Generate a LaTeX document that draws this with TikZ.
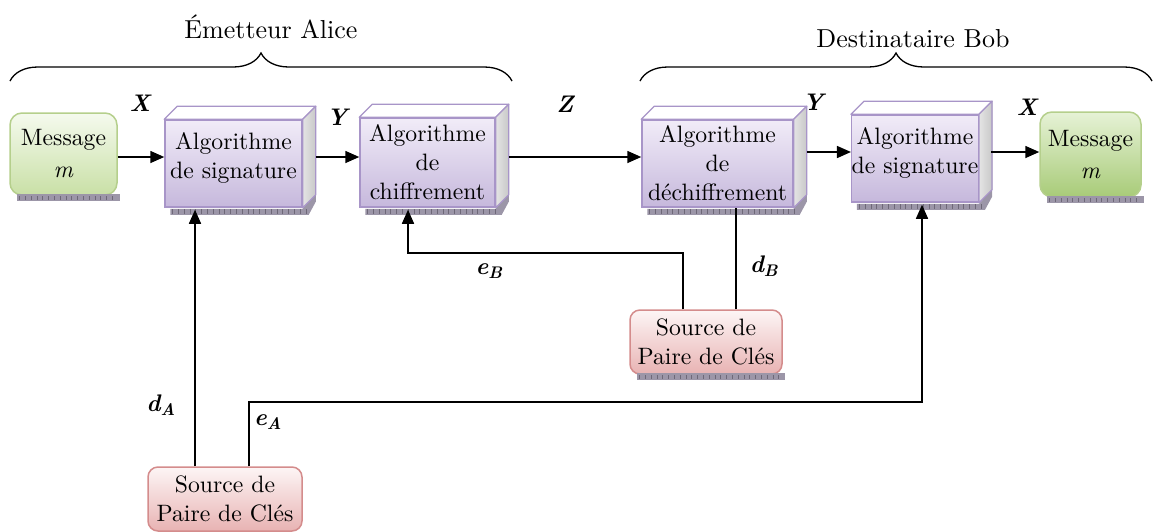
\documentclass[tikz,border=0pt]{standalone}
\usepackage{fontspec}
\setmainfont{lmroman10}[Extension=.otf, UprightFont=*-regular, BoldFont=*-bold, ItalicFont=*-italic, BoldItalicFont=*-bolditalic]
\usetikzlibrary{arrows.meta,calc,decorations.pathreplacing}
\definecolor{pborder}{HTML}{A895C8}
\definecolor{ptop}{HTML}{F1ECF8}
\definecolor{pbot}{HTML}{C6B8DC}
\definecolor{sideL}{HTML}{E4E4E4}
\definecolor{sideR}{HTML}{C8C8C8}
\definecolor{gborder}{HTML}{B5CF8C}
\definecolor{gtop}{HTML}{F5FAEE}
\definecolor{gbot}{HTML}{C9E0A6}
\definecolor{gtopB}{HTML}{E6F2D6}
\definecolor{gbotB}{HTML}{A8CB78}
\definecolor{rborder}{HTML}{D48C8C}
\definecolor{rtop}{HTML}{FDF5F5}
\definecolor{rbot}{HTML}{E8B3B3}
\definecolor{shc}{HTML}{9C96A8}
\definecolor{shd}{HTML}{6E6878}
\newcommand\bxfont{\fontsize{23.7}{29}\selectfont}
\newcommand\ttlfont{\fontsize{26}{31}\selectfont}
\newcommand\lbfont{\fontsize{24}{28}\selectfont\bfseries\itshape}
\newcommand\cubeparts[2]{%
  \fill[shc] ($(#1.south west)+(6,1)$) -- ($(#1.south west)+(6,7)$) -- ($(#1.south east)+(6,7)$) -- ($(#1.south east)+(#2,-#2+7)$) -- ($(#1.south east)+(#2,-#2)$) -- ($(#1.south east)+(0,1)$) -- cycle;
  \draw[shd, line width=5pt, dash pattern=on 0.8pt off 5pt] ($(#1.south west)+(8,4)$) -- ($(#1.south east)+(4,4)$);
  \filldraw[draw=pborder, line width=1.3pt, fill=white, line join=round] (#1.north west) -- ++(#2,-#2) -- ($(#1.north east)+(#2,-#2)$) -- (#1.north east) -- cycle;
  \filldraw[draw=pborder, line width=1.3pt, left color=sideL, right color=sideR, line join=round] (#1.north east) -- ++(#2,-#2) -- ($(#1.south east)+(#2,-#2)$) -- (#1.south east) -- cycle;
}
\newcommand\flatshadow[1]{%
  \fill[shc] ($(#1.south west)+(8,-2)$) rectangle ($(#1.south east)+(2,5)$);
  \draw[shd, line width=4pt, dash pattern=on 0.8pt off 5pt] ($(#1.south west)+(10,2.5)$) -- ($(#1.south east)+(0,2.5)$);
}
\begin{document}
\begin{tikzpicture}[x=1pt,y=-1pt,
  algbox/.style={draw=pborder, line width=1.5pt, top color=ptop, bottom color=pbot, align=center, inner sep=0pt, font=\bxfont},
  msgbox/.style={draw=gborder, line width=1.5pt, rounded corners=12pt, top color=gtop, bottom color=gbot, align=center, inner sep=0pt, font=\bxfont},
  msgboxB/.style={msgbox, top color=gtopB, bottom color=gbotB},
  srcbox/.style={draw=rborder, line width=1.5pt, rounded corners=10pt, top color=rtop, bottom color=rbot, align=center, inner sep=0pt, font=\bxfont},
  arr/.style={line width=1.6pt, -{Triangle[length=14pt,width=12pt]}},
  link/.style={line width=1.5pt},
  lab/.style={font=\lbfont, inner sep=0pt},
  ttl/.style={font=\ttlfont, inner sep=0pt},
  brc/.style={decorate, decoration={brace, amplitude=28pt}, line width=1.3pt}
]
\useasboundingbox (0,0) rectangle (1160,531);

% titles and braces
\node[ttl] (tA) at (271,27) {Émetteur Alice};
\node[ttl] (tB) at (913,39) {Destinataire Bob};
\coordinate (brA1) at (10,81);
\coordinate (brA2) at (512,81);
\coordinate (brB1) at (640,81);
\coordinate (brB2) at (1152,81);
\draw[brc] (brA1) -- (brA2);
\draw[brc] (brB1) -- (brB2);

% message boxes
\node[msgbox, minimum width=107pt, minimum height=82pt] (m1) at (63.5,154) {Message\\[3pt]\textit{m}};
\flatshadow{m1}
\node[msgboxB, minimum width=101pt, minimum height=85pt] (m2) at (1090.5,154.5) {Message\\[3pt]\textit{m}};
\flatshadow{m2}

% algorithm boxes
\node[algbox, minimum width=137pt, minimum height=87pt, text depth=16pt] (b1) at (233.5,163.5) {Algorithme\\de signature};
\cubeparts{b1}{13}
\node[algbox, minimum width=135pt, minimum height=89pt] (b2) at (427.5,162.5) {Algorithme\\de\\chiffrement};
\cubeparts{b2}{13}
\node[algbox, minimum width=151pt, minimum height=87pt] (b3) at (717.5,163.5) {Algorithme\\de\\déchiffrement};
\cubeparts{b3}{13}
\node[algbox, minimum width=126pt, minimum height=87pt, text depth=16pt] (b4) at (915,158.5) {Algorithme\\de signature};
\cubeparts{b4}{13}

% key sources
\node[srcbox, minimum width=152pt, minimum height=64pt] (sB) at (706,342) {Source de\\Paire de Clés};
\flatshadow{sB}
\node[srcbox, minimum width=154pt, minimum height=64pt] (sA) at (225,499) {Source de\\Paire de Clés};

% helper coordinates
\coordinate (ya) at (0,157);
\coordinate (yb) at (0,152);
\coordinate (b1r) at ($(b1.east)+(13,0)$);
\coordinate (b2r) at ($(b2.east)+(13,0)$);
\coordinate (b3r) at ($(b3.east)+(13,0)$);
\coordinate (b4r) at ($(b4.east)+(12,0)$);
\coordinate (xdA) at (195,0);
\coordinate (xeA) at (249,0);
\coordinate (yeA) at (0,402);
\coordinate (xeA2) at (922,0);
\coordinate (xeB) at (683,0);
\coordinate (yeB) at (0,253);
\coordinate (xeB2) at (408,0);
\coordinate (xdB) at (736,0);

% main chain
\draw[arr] (m1.east |- ya) -- (b1.west |- ya);
\draw[arr] (b1r |- ya) -- (b2.west |- ya);
\draw[arr] (b2r |- ya) -- (b3.west |- ya);
\draw[arr] (b3r |- yb) -- (b4.west |- yb);
\draw[arr] (b4r |- yb) -- (m2.west |- yb);

% key links
\draw[arr, line width=1.5pt] (sA.north -| xdA) -- ($(b1.south -| xdA)+(0,2)$);
\draw[arr, line width=1.5pt] (sA.north -| xeA) -- (xeA |- yeA) -- (xeA2 |- yeA) -- ($(b4.south -| xeA2)+(0,2)$);
\draw[arr, line width=1.5pt] (sB.north -| xeB) -- (xeB |- yeB) -- (xeB2 |- yeB) -- ($(b2.south -| xeB2)+(0,2)$);
\draw[link] (sB.north -| xdB) -- (b3.south -| xdB);

% labels
\node[lab] (lX1) at (140,103) {X};
\node[lab] (lY1) at (337,117) {Y};
\node[lab] (lZ) at (565,104) {Z};
\node[lab] (lY2) at (813,102) {Y};
\node[lab] (lX2) at (1027,107) {X};
\node[lab] (ldA) at (161,405) {d\textsubscript{A}};
\node[lab] (leA) at (268,422) {e\textsubscript{A}};
\node[lab] (leB) at (489,271) {e\textsubscript{B}};
\node[lab] (ldB) at (764,266) {d\textsubscript{B}};
\end{tikzpicture}
\end{document}
